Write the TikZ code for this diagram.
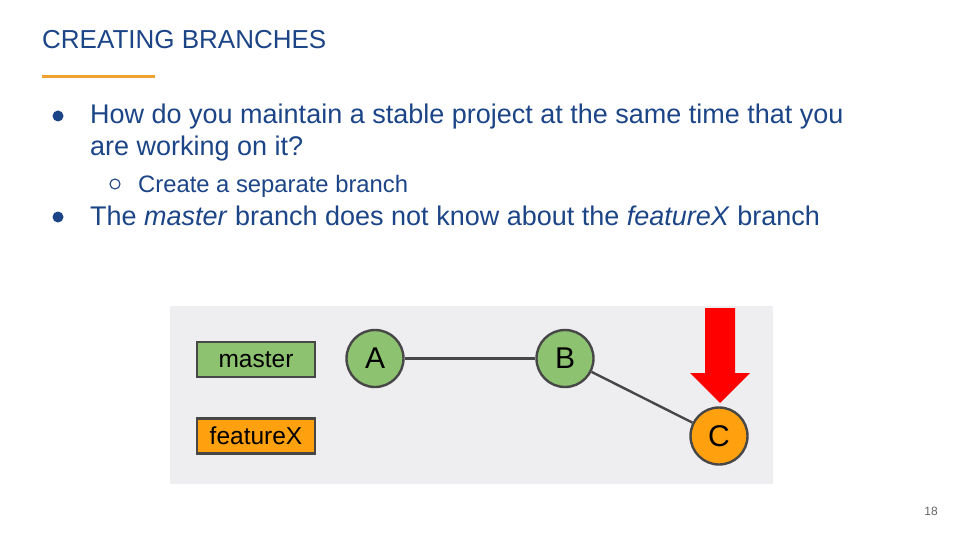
\documentclass[tikz,border=0pt]{standalone}
\usepackage{fontspec}
\setmainfont{Liberation Sans}
\definecolor{slideblue}{HTML}{1C4587}
\definecolor{accent}{HTML}{F1A22E}
\definecolor{panel}{HTML}{EEEEF1}
\definecolor{commitgreen}{HTML}{8CC270}
\definecolor{commitorange}{HTML}{FFA00F}
\definecolor{edge}{HTML}{474747}
\definecolor{pointer}{HTML}{FF0000}
\begin{document}
\begin{tikzpicture}[x=1pt,y=-1pt,
  txt/.style={anchor=base west,inner sep=0pt,text=slideblue},
  bigtxt/.style={txt,font=\fontsize{27}{32}\selectfont},
  branchbox/.style={draw=edge,line width=2.4pt,minimum width=118pt,minimum height=35pt,inner sep=0pt,
    font=\fontsize{24.5}{26}\selectfont},
  commit/.style={circle,draw=edge,line width=2.4pt,minimum size=57pt,inner sep=0pt,
    font=\fontsize{30}{32}\selectfont},
  link/.style={draw=edge,line width=2.4pt}]
\useasboundingbox (0,0) rectangle (960,540);
\fill[white] (0,0) rectangle (960,540);

% title and accent rule
\node[txt,font=\fontsize{26}{30}\selectfont] (title) at (42,49) {CREATING BRANCHES};
\fill[accent] (42,75.5) rectangle (155,78.5);

% bullet list
\fill[slideblue] (58,116) circle (5.5);
\node[bigtxt] (l1) at (90,124) {How do you maintain a stable project at the same time that you};
\node[bigtxt] (l2) at (90,156) {are working on it?};
\draw[slideblue,line width=1.1pt] (115,184) circle (5);
\node[txt,font=\fontsize{23.8}{28}\selectfont] (l3) at (138,193) {Create a separate branch};
\fill[slideblue] (58,217) circle (5.5);
\node[bigtxt] (l4) at (90,225) {The \textit{master} branch does not know about the \textit{featureX} branch};

% diagram panel
\fill[panel] (170,306) rectangle (773,484);
\node[branchbox,fill=commitgreen] (master) at (256,359.5) {master};
\node[branchbox,fill=commitorange] (featureX) at (256,436) {featureX};

\node[commit,fill=commitgreen] (A) at (375,358.5) {A};
\node[commit,fill=commitgreen] (B) at (565,358.5) {B};
\node[commit,fill=commitorange] (C) at (719,436) {C};
\draw[link] (A) -- (B);
\draw[link] (B) -- (C);

% pointer marking the current commit
\fill[pointer] (705,308) -- (735,308) -- (735,373) -- (750,373) -- (720,403)
  -- (690,373) -- (705,373) -- cycle;

% page number
\node[anchor=base east,inner sep=0pt,text=black!60,font=\fontsize{12}{14}\selectfont] (page) at (938,515) {18};
\end{tikzpicture}
\end{document}
